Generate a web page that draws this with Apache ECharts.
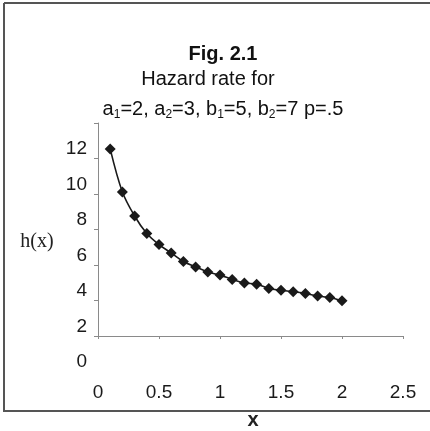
<!DOCTYPE html>
<html>
<head>
<meta charset="utf-8">
<script src="https://cdn.jsdelivr.net/npm/echarts@6/dist/echarts.min.js"></script>
<style>
html,body{margin:0;padding:0;background:#fff;}
#chart{width:430px;height:431px;}
</style>
</head>
<body>
<div id="chart"></div>
<script>
// Data
var xValues = [0.1,0.2,0.3,0.4,0.5,0.6,0.7,0.8,0.9,1.0,1.1,1.2,1.3,1.4,1.5,1.6,1.7,1.8,1.9,2.0];
var hValues = [10.54,8.11,6.76,5.77,5.15,4.68,4.20,3.89,3.61,3.43,3.19,2.99,2.92,2.68,2.58,2.49,2.40,2.25,2.17,1.98];
var yTicks = [0,2,4,6,8,10,12];
var xTicks = [0,0.5,1,1.5,2,2.5];
var titleLines = ['Fig. 2.1','Hazard rate for'];
var yName = 'h(x)';
var xName = 'x';

var points = xValues.map(function(x,i){return [x,hValues[i]];});
var chart = echarts.init(document.getElementById('chart'));
var font = 'Liberation Sans, Arial, sans-serif';
chart.setOption({
  backgroundColor:'#ffffff',
  animation:false,
  grid:{left:98,right:27,top:123,bottom:95,containLabel:false},
  xAxis:{
    type:'value',min:xTicks[0],max:xTicks[xTicks.length-1],interval:0.5,
    axisLine:{show:true,lineStyle:{color:'#8a8a8a',width:1}},
    axisTick:{show:true,inside:false,length:3,lineStyle:{color:'#8a8a8a'}},
    splitLine:{show:false},
    axisLabel:{margin:47,fontSize:19,lineHeight:20,color:'#1a1a1a',fontFamily:font,showMinLabel:true,showMaxLabel:true,hideOverlap:false}
  },
  yAxis:{
    type:'value',min:yTicks[0],max:yTicks[yTicks.length-1],interval:2,
    axisLine:{show:true,lineStyle:{color:'#8a8a8a',width:1}},
    axisTick:{show:true,length:4,lineStyle:{color:'#8a8a8a'}},
    splitLine:{show:false},
    axisLabel:{margin:11,fontSize:19,lineHeight:14,verticalAlign:'top',padding:[19,0,0,0],color:'#1a1a1a',fontFamily:font,showMinLabel:true,showMaxLabel:true,hideOverlap:false}
  },
  series:[{
    type:'line',data:points,smooth:0.35,
    symbol:'diamond',symbolSize:11,
    lineStyle:{color:'#1a1a1a',width:1.6},
    itemStyle:{color:'#1a1a1a'}
  }],
  graphic:[
    {type:'line',shape:{x1:4,y1:3,x2:430,y2:3},style:{stroke:'#555',lineWidth:2}},
    {type:'line',shape:{x1:4,y1:3,x2:4,y2:411},style:{stroke:'#555',lineWidth:2}},
    {type:'line',shape:{x1:3,y1:411,x2:430,y2:411},style:{stroke:'#555',lineWidth:2}},
    {type:'text',x:223,y:54,style:{text:titleLines[0],textAlign:'center',textVerticalAlign:'middle',font:'bold 20px '+font,fill:'#111'}},
    {type:'text',x:208,y:79,style:{text:titleLines[1],textAlign:'center',textVerticalAlign:'middle',font:'20px '+font,fill:'#111'}},
    {type:'text',x:223,y:109,style:{
      text:'{n|a}{s|1}{n|=2, a}{s|2}{n|=3, b}{s|1}{n|=5, b}{s|2}{n|=7 p=.5}',
      textAlign:'center',textVerticalAlign:'middle',fill:'#111',
      rich:{
        n:{fontSize:20,fontFamily:font,lineHeight:24,fill:'#111'},
        s:{fontSize:12,fontFamily:font,lineHeight:12,verticalAlign:'bottom',fill:'#111'}
      }}},
    {type:'text',x:37,y:242,style:{text:yName,textAlign:'center',textVerticalAlign:'middle',font:'20px Liberation Serif, Times New Roman, serif',fill:'#222'}},
    {type:'text',x:253,y:420,style:{text:xName,textAlign:'center',textVerticalAlign:'middle',font:'bold 20px '+font,fill:'#222'}}
  ]
});
</script>
</body>
</html>
